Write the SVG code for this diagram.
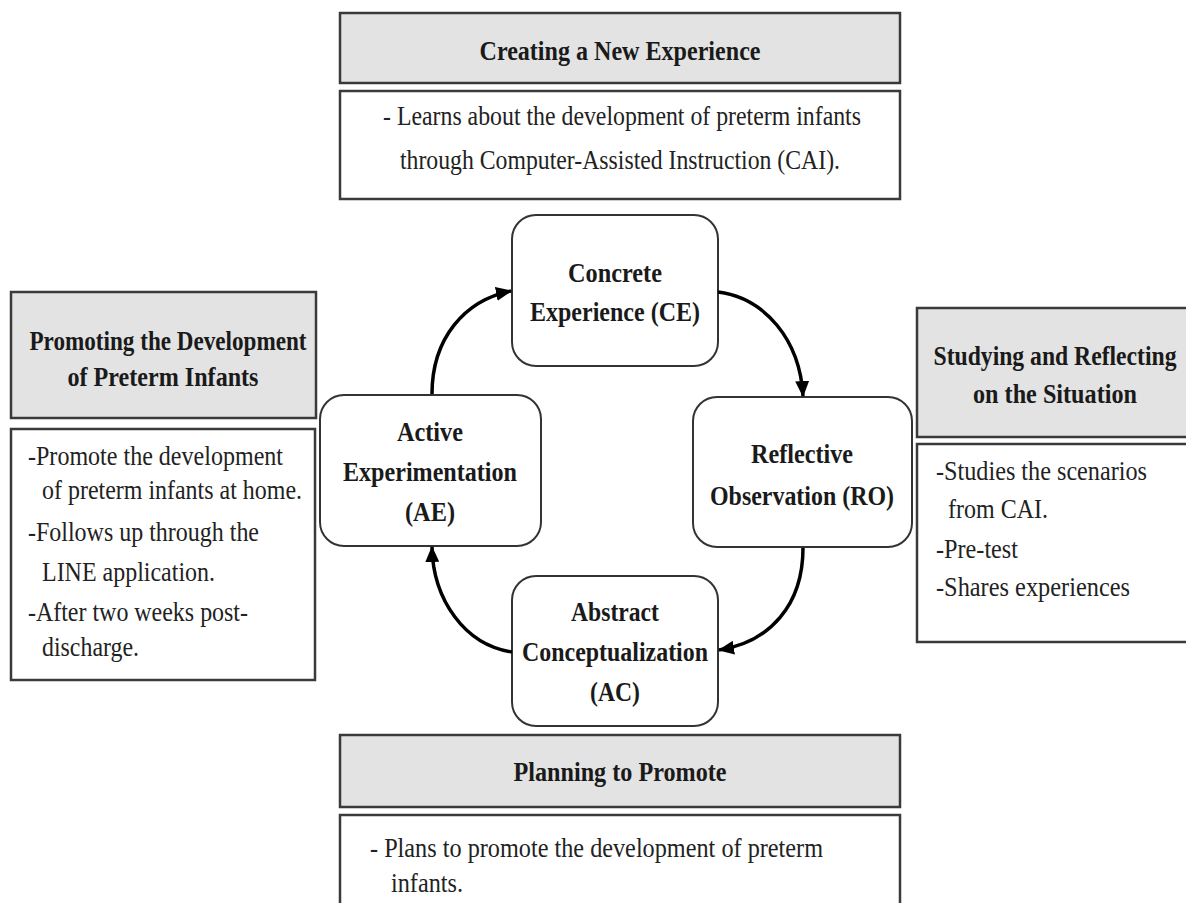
<svg xmlns="http://www.w3.org/2000/svg" width="1186" height="903" viewBox="0 0 1186 903">
<style>
.hdr{fill:#e3e3e3;stroke:#3a3a3a;stroke-width:2.5}
.body{fill:#ffffff;stroke:#3a3a3a;stroke-width:2.5}
.node{fill:#ffffff;stroke:#333333;stroke-width:2}
.b{font-family:"Liberation Serif","Times New Roman",serif;font-weight:bold;font-size:27px;fill:#1a1a1a;text-anchor:middle}
.r{font-family:"Liberation Serif","Times New Roman",serif;font-size:27px;fill:#222222}
.rc{text-anchor:middle}
.conn{fill:none;stroke:#000000;stroke-width:3.5}
</style>
<defs>
<marker id="ah" markerUnits="userSpaceOnUse" markerWidth="16" markerHeight="14" refX="15" refY="7" orient="auto">
<path d="M0,0 L16,7 L0,14 Z" fill="#000000"/>
</marker>
</defs>
<rect width="1186" height="903" fill="#ffffff"/>

<g id="top">
<rect class="hdr" x="340" y="13" width="560" height="70"/>
<text class="b" x="620" y="60" textLength="281" lengthAdjust="spacingAndGlyphs">Creating a New Experience</text>
<rect class="body" x="340" y="91" width="560" height="108"/>
<text class="r rc" x="622" y="125" textLength="478" lengthAdjust="spacingAndGlyphs">- Learns about the development of preterm infants</text>
<text class="r rc" x="620" y="169" textLength="440" lengthAdjust="spacingAndGlyphs">through Computer-Assisted Instruction (CAI).</text>
</g>

<g id="left">
<rect class="hdr" x="11" y="292" width="305" height="126"/>
<text class="b" x="168" y="350" textLength="277" lengthAdjust="spacingAndGlyphs">Promoting the Development</text>
<text class="b" x="163" y="386" textLength="191" lengthAdjust="spacingAndGlyphs">of Preterm Infants</text>
<rect class="body" x="11" y="429" width="304" height="251"/>
<text class="r" x="28" y="465" textLength="255" lengthAdjust="spacingAndGlyphs">-Promote the development</text>
<text class="r" x="42" y="499" textLength="260" lengthAdjust="spacingAndGlyphs">of preterm infants at home.</text>
<text class="r" x="28" y="541" textLength="231" lengthAdjust="spacingAndGlyphs">-Follows up through the</text>
<text class="r" x="42" y="581" textLength="173" lengthAdjust="spacingAndGlyphs">LINE application.</text>
<text class="r" x="28" y="621" textLength="220" lengthAdjust="spacingAndGlyphs">-After two weeks post-</text>
<text class="r" x="42" y="656" textLength="97" lengthAdjust="spacingAndGlyphs">discharge.</text>
</g>

<g id="right">
<rect class="hdr" x="917" y="308" width="280" height="129"/>
<text class="b" x="1055" y="365" textLength="243" lengthAdjust="spacingAndGlyphs">Studying and Reflecting</text>
<text class="b" x="1055" y="403" textLength="164" lengthAdjust="spacingAndGlyphs">on the Situation</text>
<rect class="body" x="917" y="444" width="280" height="198"/>
<text class="r" x="936" y="480" textLength="211" lengthAdjust="spacingAndGlyphs">-Studies the scenarios</text>
<text class="r" x="948" y="518" textLength="100" lengthAdjust="spacingAndGlyphs">from CAI.</text>
<text class="r" x="936" y="558" textLength="82" lengthAdjust="spacingAndGlyphs">-Pre-test</text>
<text class="r" x="936" y="596" textLength="194" lengthAdjust="spacingAndGlyphs">-Shares experiences</text>
</g>

<g id="bottom">
<rect class="hdr" x="340" y="735" width="560" height="72"/>
<text class="b" x="620" y="781" textLength="213" lengthAdjust="spacingAndGlyphs">Planning to Promote</text>
<rect class="body" x="340" y="815" width="560" height="100"/>
<text class="r" x="370" y="857" textLength="453" lengthAdjust="spacingAndGlyphs">-  Plans to promote the development of preterm</text>
<text class="r" x="391" y="892" textLength="72" lengthAdjust="spacingAndGlyphs">infants.</text>
</g>

<g id="ce">
<rect class="node" x="512" y="215" width="206" height="151" rx="24"/>
<text class="b" x="615" y="282" textLength="94" lengthAdjust="spacingAndGlyphs">Concrete</text>
<text class="b" x="615" y="321" textLength="170" lengthAdjust="spacingAndGlyphs">Experience (CE)</text>
</g>

<g id="ro">
<rect class="node" x="693" y="397" width="219" height="150" rx="24"/>
<text class="b" x="802" y="463" textLength="102" lengthAdjust="spacingAndGlyphs">Reflective</text>
<text class="b" x="802" y="505" textLength="184" lengthAdjust="spacingAndGlyphs">Observation (RO)</text>
</g>

<g id="ac">
<rect class="node" x="512" y="576" width="206" height="150" rx="24"/>
<text class="b" x="615" y="621" textLength="88" lengthAdjust="spacingAndGlyphs">Abstract</text>
<text class="b" x="615" y="661" textLength="186" lengthAdjust="spacingAndGlyphs">Conceptualization</text>
<text class="b" x="615" y="701" textLength="50" lengthAdjust="spacingAndGlyphs">(AC)</text>
</g>

<g id="ae">
<rect class="node" x="320" y="395" width="221" height="151" rx="24"/>
<text class="b" x="430" y="441" textLength="66" lengthAdjust="spacingAndGlyphs">Active</text>
<text class="b" x="430" y="481" textLength="174" lengthAdjust="spacingAndGlyphs">Experimentation</text>
<text class="b" x="430" y="521" textLength="50" lengthAdjust="spacingAndGlyphs">(AE)</text>
</g>

<g id="connectors">
<path class="conn" d="M432,394 C432,338 465,300 511,291" marker-end="url(#ah)"/>
<path class="conn" d="M718,292 C765,298 800,340 803,396" marker-end="url(#ah)"/>
<path class="conn" d="M803,548 C803,605 770,642 719,650" marker-end="url(#ah)"/>
<path class="conn" d="M512,652 C465,645 433,600 432,547" marker-end="url(#ah)"/>
</g>
</svg>
